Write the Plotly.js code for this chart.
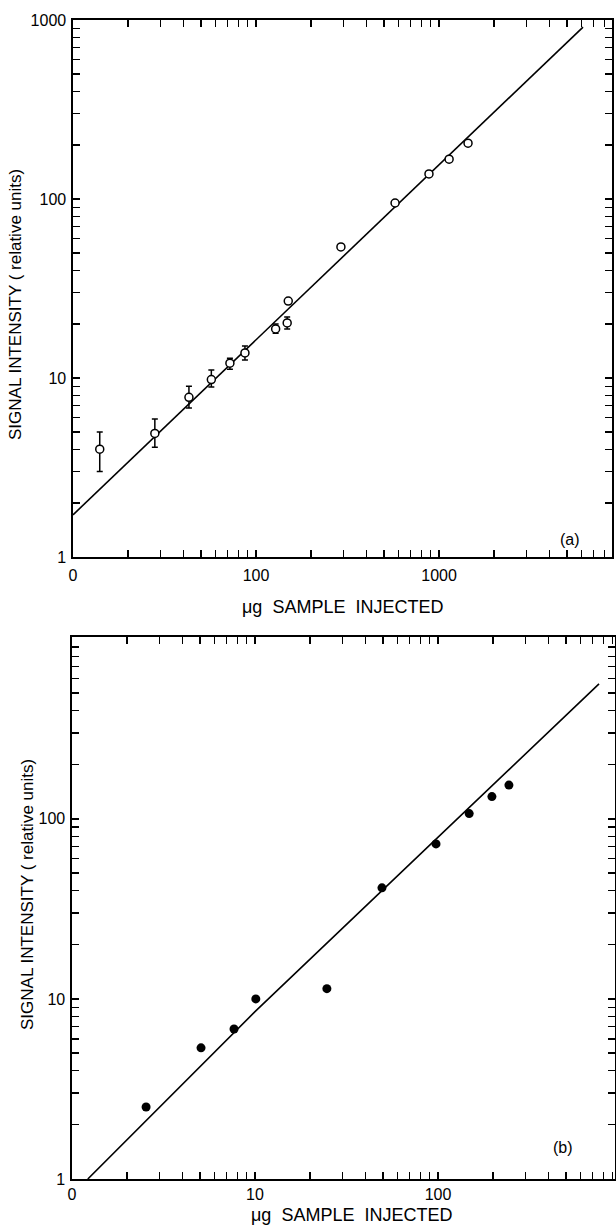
<!DOCTYPE html>
<html>
<head>
<meta charset="utf-8">
<script src="https://cdn.plot.ly/plotly-3.0.1.min.js"></script>
<style>html,body{margin:0;padding:0;background:#fff;}#chart{width:616px;height:1227px;}</style>
</head>
<body>
<div id="chart"></div>
<script>
// ---- Panel (a) data ----
const aSampleUg = [14, 28, 43, 57, 72, 87, 128, 148, 150, 291, 575, 881, 1135, 1440];
const aSignal   = [4.0, 4.9, 7.8, 9.8, 12.1, 13.8, 18.8, 20.3, 26.9, 54, 95, 138, 167, 205];
const aErrPlus  = [1.0, 1.0, 1.2, 1.3, 0.8, 1.3, 1.2, 1.6, 0, 0, 0, 0, 0, 0];
const aErrMinus = [1.0, 0.8, 1.0, 0.9, 0.9, 1.2, 1.0, 1.5, 0, 0, 0, 0, 0, 0];
const aFitX = [10, 6120];
const aFitY = [1.72, 913];

// ---- Panel (b) data ----
const bSampleUg = [2.54, 5.07, 7.68, 10.1, 24.7, 49.4, 97.5, 148, 197, 244];
const bSignal   = [2.51, 5.35, 6.81, 10.0, 11.4, 41.4, 72.6, 107, 133, 154];
const bFitX = [1.22, 10, 758];
const bFitY = [1, 8.5, 562];

// ---- Tick labels ----
const aXTickVals = [10, 100, 1000];
const aXTickText = ['0', '100', '1000'];
const aYTickVals = [1, 10, 100, 1000];
const aYTickText = ['1', '10', '100', '1000'];
const bXTickVals = [1, 10, 100];
const bXTickText = ['0', '10', '100'];
const bYTickVals = [1, 10, 100];
const bYTickText = ['1', '10', '100'];

const xTitle = 'μg  SAMPLE  INJECTED';
const yTitle = 'SIGNAL INTENSITY ( relative units)';

// major labelled ticks plus unlabelled 2..9 ticks in each decade
function ticksWithMinor(vals, text, d0, d1) {
  const v = vals.slice(), t = text.slice();
  for (let d = d0; d < d1; d++) for (let k = 2; k <= 9; k++) { v.push(k * Math.pow(10, d)); t.push(''); }
  return {tickvals: v, ticktext: t};
}

const FONT = 'Liberation Sans, Arial, sans-serif';
const L = 72, R = 1, T = 20, B = 48, W = 616, H = 1227;
const PW = W - L - R, PH = H - T - B;
const px = x => (x - L) / PW;
const py = y => (H - B - y) / PH;

function axisBase(extra) {
  return Object.assign({
    type: 'log', showgrid: false, zeroline: false,
    showline: true, linecolor: '#000', linewidth: 1.6, mirror: 'ticks',
    ticks: 'inside', ticklen: 7, tickwidth: 1.3, tickcolor: '#000',
    tickmode: 'array',
    tickfont: {family: FONT, size: 16, color: '#000'}
  }, extra);
}

const traces = [
  {x: aFitX, y: aFitY, xaxis: 'x', yaxis: 'y', mode: 'lines',
   line: {color: '#000', width: 1.6}, hoverinfo: 'skip', showlegend: false},
  {x: aSampleUg, y: aSignal, xaxis: 'x', yaxis: 'y', mode: 'markers',
   marker: {symbol: 'circle', size: 8, color: '#fff', line: {color: '#000', width: 1.5}},
   error_y: {type: 'data', symmetric: false, array: aErrPlus, arrayminus: aErrMinus,
             color: '#000', thickness: 1.5, width: 3},
   showlegend: false},
  {x: bFitX, y: bFitY, xaxis: 'x2', yaxis: 'y2', mode: 'lines',
   line: {color: '#000', width: 1.6}, hoverinfo: 'skip', showlegend: false},
  {x: bSampleUg, y: bSignal, xaxis: 'x2', yaxis: 'y2', mode: 'markers',
   marker: {symbol: 'circle', size: 9, color: '#000'}, showlegend: false}
];

const layout = {
  width: W, height: H,
  margin: {l: L, r: R, t: T, b: B, pad: 0},
  paper_bgcolor: '#fff', plot_bgcolor: '#fff',
  showlegend: false,
  xaxis: axisBase(Object.assign({domain: [px(73), px(612)], range: [1, 3.945], anchor: 'y',
    ticklabelstandoff: 3}, ticksWithMinor(aXTickVals, aXTickText, 1, 4))),
  yaxis: axisBase(Object.assign({domain: [py(557), 1], range: [0, 3], anchor: 'x',
    ticklabelstandoff: 2}, ticksWithMinor(aYTickVals, aYTickText, 0, 3))),
  xaxis2: axisBase(Object.assign({domain: [px(72), px(615)], range: [0, 2.967], anchor: 'y2',
    ticklabelstandoff: 0}, ticksWithMinor(bXTickVals, bXTickText, 0, 3))),
  yaxis2: axisBase(Object.assign({domain: [0, py(637)], range: [0, 3.01], anchor: 'x2',
    ticklabelstandoff: 2}, ticksWithMinor(bYTickVals, bYTickText, 0, 4))),
  annotations: [
    {text: yTitle, xref: 'paper', yref: 'paper', x: px(15), y: py(305), textangle: -90,
     xanchor: 'center', yanchor: 'middle', showarrow: false, font: {family: FONT, size: 17, color: '#000'}},
    {text: yTitle, xref: 'paper', yref: 'paper', x: px(27), y: py(895), textangle: -90,
     xanchor: 'center', yanchor: 'middle', showarrow: false, font: {family: FONT, size: 17, color: '#000'}},
    {text: xTitle, xref: 'paper', yref: 'paper', x: px(342), y: py(607),
     xanchor: 'center', yanchor: 'middle', showarrow: false, font: {family: FONT, size: 18, color: '#000'}},
    {text: xTitle, xref: 'paper', yref: 'paper', x: px(351), y: py(1215),
     xanchor: 'center', yanchor: 'middle', showarrow: false, font: {family: FONT, size: 18, color: '#000'}},
    {text: '(a)', xref: 'paper', yref: 'paper', x: px(570), y: py(539),
     xanchor: 'center', yanchor: 'middle', showarrow: false, font: {family: FONT, size: 16, color: '#000'}},
    {text: '(b)', xref: 'paper', yref: 'paper', x: px(563), y: py(1147),
     xanchor: 'center', yanchor: 'middle', showarrow: false, font: {family: FONT, size: 16, color: '#000'}}
  ]
};

Plotly.newPlot('chart', traces, layout, {staticPlot: true, displayModeBar: false});
</script>
</body>
</html>
